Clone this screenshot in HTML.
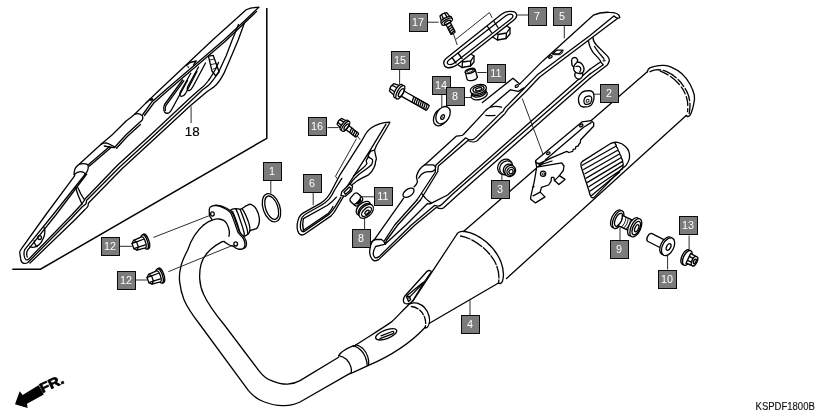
<!DOCTYPE html>
<html>
<head>
<meta charset="utf-8">
<title>Exhaust Muffler</title>
<style>
html,body{margin:0;padding:0;background:#fff;}
body{width:839px;height:420px;overflow:hidden;font-family:"Liberation Sans",sans-serif;}
svg{display:block;will-change:transform;opacity:0.999;}
.l{fill:none;stroke:#000;stroke-width:1.3;stroke-linecap:round;stroke-linejoin:round;}
.t{fill:none;stroke:#111;stroke-width:0.9;stroke-linecap:round;stroke-linejoin:round;}
.w{fill:#fff;stroke:#000;stroke-width:1.3;stroke-linecap:round;stroke-linejoin:round;}
.k{fill:none;stroke:#000;stroke-width:1.5;stroke-linecap:butt;stroke-linejoin:miter;}
.ld{fill:none;stroke:#222;stroke-width:0.95;}
.b{fill:#7b7b7b;stroke:#0a0a0a;stroke-width:1;shape-rendering:crispEdges;}
.n{fill:#fff;font-family:"Liberation Sans",sans-serif;font-size:10px;text-anchor:middle;}
</style>
</head>
<body>
<svg width="839" height="420" viewBox="0 0 839 420">
<rect x="0" y="0" width="839" height="420" fill="#fff"/>

<!-- ===== inset frame for 18 ===== -->
<path class="k" d="M266.8 8 L266.8 138.3 L40.5 269.2 L12.3 269.2"/>

<!-- ===== PART 18 ===== -->
<g id="p18">
<!-- A18 outer upper-left edge, bulges, left rail, tip, right rail -->
<path class="l" d="M258.8 7.3 C254 7.2,249.5 7.9,246.2 9.8 L212.6 40 L159.5 90 L146 102.9 L134.7 114.2 C131.5 117,129 119,126.4 120.8 L112 135 L101.3 144.1 L79.2 164.3 C76.5 166.3,75 168,74.8 169.8 C74.2 171.5,74 173,74.2 174.5 L74.8 175.7 L45.6 215 L21.7 248.4 C20.3 250,19.7 251,19.7 252.5 L20.9 260.3 C21.5 262.3,22.7 263.3,24.1 263.4 C25.5 263.6,26.5 263.3,27.6 262.7 L71.3 218.5 L82 207 C84.5 205,85.8 204.5,86.2 203.3 L86.5 200.5 L120 166.8 L150 139.3 L190 101.7 L202.4 90 C206 87.5,209 85.5,210.8 82.9 C214 79,217 75,219.1 71 L226.3 55.5 L232.2 40 L238.5 24.5"/>
<!-- B18 thick double edge -->
<path class="l" d="M258.8 7.3 L244.4 21 L223.9 40 L165.5 90 L152 101.7 L142.8 114.5" stroke-width="1.2"/>
<path class="l" d="M256.5 11.5 L245.5 22 L225.3 41.2 L167 91.3 L153.8 103 L144.5 115.5" stroke-width="1.2"/>
<!-- tab near (190,63) -->
<path class="l" d="M186.5 65.5 L190 62.5 L196.3 61 L193.5 65"/>
<path d="M187 66.3 L189.5 66.8 L188.3 68.2 Z" fill="#000"/>
<!-- tab near (150,100) -->
<path class="l" d="M146 102.9 L150 99.3 L153 99.3"/>
<path d="M149.5 98.5 L152.8 98 L152.5 100.8 L150 100.8 Z" fill="#000"/>
<!-- bulge 1 wide band -->
<path class="l" d="M134.7 114.2 C137 113.3,140 113.5,142.4 115.8 C143 117,143 118.3,142.4 119.6 C141.5 121,140.3 122,138.9 123.1 L125.8 135 L115 147"/>
<path class="l" d="M140.5 124.5 L127.5 136.3 L116.5 148.2" stroke-width="1"/>
<!-- step -->
<path class="l" d="M101.3 144.1 C103 143.2,104.5 142.9,106 142.9 C109 143.5,112 145.5,115 147"/>
<path class="l" d="M104.3 146 C107.5 146.8,111 147.3,114.5 147.6" stroke-width="1"/>
<!-- narrow band right edge (double) -->
<path class="l" d="M109.6 146.5 L88.1 164.9" stroke-width="1.1"/>
<path class="l" d="M111.3 147.3 L89.5 166" stroke-width="1.1"/>
<!-- bulge 2 -->
<path class="l" d="M79.2 164.3 C82 163.3,85.8 163.5,88.1 164.9 C88.5 167,88.3 169,87.5 170.8 L85 174.5"/>
<path class="l" d="M74.2 174.5 C77 172,81 171.3,83.5 172.3 C84.5 173,85 173.8,85 174.5"/>
<!-- left rail inner double -->
<path class="l" d="M85 174.5 L52.8 215 L24.7 249.6 C24 251.5,23.9 253.5,24.1 255.5 C24.4 257.5,25 259,25.9 259.7 C27 260,28 259.7,28.8 259.1 L71.7 215 L82 203.7 C83 202.5,84 201,85 199 L117.7 165 L150 135.5 L190 98 L199 90 C203 87,206.5 83.5,208.5 80.5 C211 77,213.5 73,215.3 69.5 L218.5 62.5" stroke-width="1.1"/>
<path class="l" d="M86.7 174 L55.8 215 L27.5 250.3 C26.5 252.5,26.5 255,27.3 257" stroke-width="1"/>
<!-- third rail line on right -->
<path class="l" d="M244.3 23.3 L238.2 40 L232.2 54.3 L223.9 73.4 C221 79,218 83.5,214.4 86.5 C212 88.5,209.5 89.5,207.2 91.5 L190 106 L150 142.9 L122 168.7 L88.5 203 L88 206 C87.8 207.3,86.5 208,85 209.5 L74.2 220.5 L30 263"/>
<!-- slots -->
<path class="l" d="M198.5 67 L187.8 86.5 C186.8 89,187.3 90.8,189 90.6 C190.5 90.3,192 88.5,193 86.5 L205.5 63" stroke-width="1.1"/>
<path class="l" d="M190.8 73.3 L180.3 92 C179.3 94.5,179.8 96.3,181.5 96.3 C183.2 96.2,184.8 94.8,185.8 93 L197 71.5" stroke-width="1.1"/>
<path class="l" d="M182.5 80 L164.6 104.5 C163.5 107,163.5 110,164.5 111.8 C165.5 113.5,167.8 113.7,169.5 112.5 C170.5 111.5,171.5 110,172.5 108 L187.5 80.5" stroke-width="1.1"/>
<path class="l" d="M183.8 80.8 L166 105.3 C165.2 107,165 109,165.5 110.5" stroke-width="1"/>
<!-- clip -->
<path class="l" d="M208.4 56.1 L213.2 55.3 L219.1 72 L215.6 75.8 L212 71 Z" stroke-width="1.1"/>
<path class="t" d="M209.8 60 L214.5 59 M211.3 64.5 L216 63.5 M213 69 L217.5 68"/>
<!-- cross piece -->
<path class="l" d="M75.4 187 C77 193,79.5 199,82 204.3" stroke-width="1.1"/>
<path class="l" d="M77.8 187.6 C79.5 192,82 196.5,84.4 199.6" stroke-width="1.1"/>
<!-- hole + pad -->
<circle class="l" cx="39.6" cy="237.6" r="1.9" stroke-width="1.1"/>
<path class="l" d="M43.7 226.9 C44.7 228.5,45 230,44.9 231.7 C44.8 234.5,44.2 236.8,43.1 238.8 C42.2 241,41 242.8,39.6 244.2 C38 245.8,36.2 246.8,34.2 247.2 C32.5 247.4,31 247.2,30 246.6" stroke-width="1.1"/>
<path class="l" d="M34.2 240.6 C34.2 242.5,34.7 243.8,35.4 244.8 C36 245.8,36.5 246.3,37.2 246.6" stroke-width="1"/>

</g>

<!-- ===== PIPE / MUFFLER (4) ===== -->
<g id="p4">
<!-- muffler body -->
<path class="l" d="M463.5 231.5 L647.3 71.8"/>
<path class="l" d="M506.5 278.5 L686.2 115.5"/>
<!-- muffler end cap rim -->
<path class="l" d="M647.3 71.8 C647.8 69.5,648.6 68.5,649.8 67.9 C652 66.8,653.8 66.6,655.7 66.2 C658.5 65.5,661.5 65.2,664 65.4 C666.5 65.6,669 66.2,671.2 67.1 C675 68.7,678.8 70.9,681.9 73.8 C685.3 76.9,688.2 80.5,690.2 84.5 C692 88,693.5 91.5,694.3 95.2 C694.8 98,694.6 100.8,693.8 103.6 C693.2 106.6,692.5 109.6,691.4 112.4 C690.8 114,690 115.4,689 116.2 C688 116.8,687 116.5,686.2 115.5"/>
<path class="l" d="M650 71.7 C652.5 70.5,655.5 69.8,658.3 69.7 C661 69.8,664 70.5,666.7 71.7 C670 73.2,673 75.2,675.8 77.5 C678.8 80,681.3 82.8,683.3 85.8 C685.5 88.8,687.2 91.8,688.3 95 C689.3 98.3,689.9 101.7,690 105 C690 108,689.7 110.8,689.2 113.3" stroke-dasharray="11 2.5 15 2.5 9 2.5 13 2.5" stroke-width="1.1"/>
<path class="l" d="M660 70.8 C663 72,665.8 73.4,668.3 75 C671.7 77.2,674.8 79.7,677.5 82.5 C680.2 85.3,682.5 88.4,684.2 91.7 C685.8 94.9,687 98.3,687.5 101.7 C687.9 105,687.9 108.5,687.5 111.7" stroke-dasharray="9 3 12 3 8 3" stroke-width="1"/>
<!-- weld ring at big cone end -->
<path class="l" d="M456.7 234.5 C458 231.5,461 231,465 231.5 C480 234,495 247,501 262 C504 270,504 276,502.5 281 C501.5 283.5,500 284,498.5 283"/>
<path class="l" d="M460.5 236 C473 238,488 249,495 262 C499 270,499.5 277,498.5 283" stroke-dasharray="10 2 12 2 9 2"/>
<!-- cone -->
<path class="l" d="M456.7 234.5 L412.8 301.2"/>
<path class="l" d="M498.5 283 L429 323.5"/>
<!-- small weld ring -->
<path class="l" d="M407.6 305.8 C409 303.5,413 302.5,417.4 303.1 C423 305,427.5 310,429 316 C430 320,429.5 325,427.5 327 C426.5 328,425.5 328,425 327.5"/>
<path class="l" d="M411.5 306.5 C417 307,422 311,424.5 317 C426 321,426 325,425 327.5" stroke-dasharray="7 2 6 2"/>
<!-- wide pipe -->
<path class="l" d="M407.6 305.8 C403 310,397 317,391.5 321.9 C380 330,367 337.5,353.5 346.5"/>
<path class="l" d="M425 327.5 Q403.5 350.5,367.9 365.7"/>
<!-- slot -->
<ellipse class="l" cx="386.2" cy="334.3" rx="11.2" ry="4.3" transform="rotate(-21 386.2 334.3)"/>
<path class="l" d="M380 338.6 L392.5 333.8 C394.5 333,394 331,392.3 331.5 L381 335.8" />
<!-- sleeve joint -->
<path class="l" d="M338.6 355.7 C339.8 353.5,341.5 352,343.6 350.7 C346.5 348.8,350 347.2,353.6 345.7"/>
<path class="l" d="M338.6 355.7 C341.5 356.3,344.3 357.5,346.4 359.3 C348.5 361.3,349.8 363.8,350.7 366.4 C351.3 368.3,351.6 370.3,351.4 372.1 C351.2 372.9,350.7 373.4,350 373.6" stroke-width="1.5"/>
<path class="l" d="M353.6 345.7 C356.3 346.7,358.8 348.2,360.7 350 C363 352.2,364.7 355,365.7 357.9 C366.6 360.3,367.1 362.7,367.1 365" stroke-width="1.1"/>
<path class="l" d="M355.9 344.7 C358.5 345.5,361 346.9,362.9 348.6 C365.3 350.9,367 354,367.9 357.1 C368.6 359.5,368.8 362,368.6 364.3" stroke-width="1.1"/>
<path class="l" d="M350 373.6 C352.5 372.8,355 371.8,357.1 370.7 C360.8 369,364.5 367.3,367.9 365.7"/>
<!-- stub with beads -->
<path class="w" d="M230.7 210 C232 209,233.5 208.7,235 208.6 C237 208.5,238.5 209.3,240 209.3 C241 209.3,241.5 208.9,242.1 208.6 L245 206.4 L249.3 204.3 C250.3 204.1,251.3 204.4,252.1 205 C254 206,255.5 207.5,256.4 209.3 C258 212,259 215,259.3 217.9 C259.6 220.5,259.3 223,258.6 225 C258 226.8,257.3 228,256.4 228.6 L250 230.7 C249.5 232.3,248.8 233.5,247.9 234.3 C246.5 235.5,245 236.2,243.6 236.4 C242.5 236.5,241.5 236.2,240.7 235.7 L237.9 232.1 L232.9 217.9 Z"/>
<path class="l" d="M232.5 211.5 C234 214.5,235.5 218.5,236.9 222.5 C238.3 227,239.8 231.5,240.7 235.7" stroke-width="1.1"/>
<path class="l" d="M235.7 208.6 C236.6 210.5,237.3 212,237.9 213.6 L241.4 223.6 C242.5 227,243.6 230.5,244.3 233.6 C244.4 234.8,244 235.8,243.6 236.4" stroke-width="1.1"/>
<path class="l" d="M240 209.3 C241 211.5,242 214,242.9 216.4 L246.4 226.4 C247.2 229,247.8 231.8,247.9 234.3" stroke-width="1.1"/>
<path class="l" d="M242.1 208.6 C243.5 210.5,244.7 212.8,245.7 215 C247 218,248.2 221,249 223.6 C249.7 226,250 228.5,250 230.7" stroke-width="1.1"/>
<!-- flange plate -->
<path class="w" d="M209.3 209.3 C209.5 207.5,210.3 206.8,211.4 206.4 C213 205.5,214.8 205.5,216.4 205.7 C219 206,221.5 206.8,223.6 207.9 C226 209,228 210.3,229.3 211.4 C231 213,232 215,232.9 217.9 L237.9 232.1 C239.5 234.5,241.5 236,242.9 237.9 C244.3 240,245 242,245 244.3 C245 246.3,244.3 247.8,242.9 248.6 C241.3 249.4,239.5 249.4,237.9 249 C236.3 248.5,235 247.5,233.6 246.4 C232 245.8,230.5 245.5,229.3 245 L223.6 241.4 L211.4 218.6 C210.3 217.2,209.5 215.8,209.3 214.3 Z" transform="translate(1.5 -0.4)" stroke-width="1.1"/>
<path class="w" d="M209.3 209.3 C209.5 207.5,210.3 206.8,211.4 206.4 C213 205.5,214.8 205.5,216.4 205.7 C219 206,221.5 206.8,223.6 207.9 C226 209,228 210.3,229.3 211.4 C231 213,232 215,232.9 217.9 L237.9 232.1 C239.5 234.5,241.5 236,242.9 237.9 C244.3 240,245 242,245 244.3 C245 246.3,244.3 247.8,242.9 248.6 C241.3 249.4,239.5 249.4,237.9 249 C236.3 248.5,235 247.5,233.6 246.4 C232 245.8,230.5 245.5,229.3 245 L223.6 241.4 L211.4 218.6 C210.3 217.2,209.5 215.8,209.3 214.3 Z"/>
<ellipse class="w" cx="212.4" cy="214" rx="1.8" ry="2.1" stroke-width="1.1"/>
<ellipse class="w" cx="235.7" cy="243.9" rx="1.8" ry="2.1" stroke-width="1.1"/>
<!-- pipe end white cover -->
<path d="M195 233.6 C198 230,200.5 227.5,203.6 225 C206.5 222.5,210 220.5,213.6 219.6 C215.3 219.1,217 218.9,218.6 219 C220.5 219.2,222.3 219.6,223.6 220.4 C225.2 221.3,226.3 222.6,227.1 224.3 C228.2 226.5,229 229,229.3 231.4 C229.5 233.2,229.3 235,228.9 236.4 L224.3 241.4 C223.5 241.4,222.8 241.5,222.1 241.7 C219 243.5,216 245.6,213.6 247.9 L207.1 254.3 Z" fill="#fff" stroke="none"/>
<path class="l" d="M203.6 225 C206.5 222.5,210 220.5,213.6 219.6 C215.3 219.1,217 218.9,218.6 219 C220.5 219.2,222.3 219.6,223.6 220.4 C225.2 221.3,226.3 222.6,227.1 224.3 C228.2 226.5,229 229,229.3 231.4 C229.5 233.2,229.3 235,228.9 236.4"/>
<!-- main bent pipe -->
<path class="l" d="M203.6 225 C196.5 231,191 240,187.7 250 C183 259,181 264,180.6 268 C179.3 273,179.2 278,179.7 282.2 C180.5 289,182 295,184.1 300 C188 309,194 317,200.2 325 L248.3 390.4 C253 396,258 400,264.4 402 C271 404.5,278 405.8,284 405.6 C290 405.5,295 404.5,300 402 L350 373.4"/>
<path class="l" d="M224.3 241.4 C223.5 241.4,222.8 241.5,222.1 241.7 C217.5 244,213.5 247,210 250 C205 255,202 260,201 264.3 C199.8 269,199.5 274,199.7 278.6 C200 284,201.5 290,203.8 294.7 C209 306,217 316,224.4 325 L259 370.8 C263 376,267 379,271.5 380.6 C277 383,282 384.3,287.6 384.2 C292 384,296 382.8,300 380.6 L338.6 357.3"/>
<!-- gasket ring 1 -->
<ellipse class="l" cx="271.5" cy="207.7" rx="8.4" ry="14.6" transform="rotate(-19 271.5 207.7)" stroke-width="1.1"/>
<ellipse class="l" cx="271.7" cy="207.7" rx="6.1" ry="12.2" transform="rotate(-19 271.7 207.7)"/>
<!-- bracket on pipe -->
<path class="w" d="M403.3 300.5 C403.5 298.5,404.2 296.8,405.1 295.7 L427.1 271.3 C428.2 270.5,429.3 270.4,430.1 270.7 C431 271,431.4 271.4,431.3 271.9 L424.2 282 L412.9 300.5 C411.8 302,410.6 303,409.3 303.5 C407.8 303.9,406.3 303.9,405.1 303.5 C404 302.8,403.4 301.8,403.3 300.5 Z"/>
<path class="l" d="M406.9 295.7 L423 282.6 L424.2 282" stroke-width="1.1"/>
<path class="l" d="M408.7 298.1 L421.8 284.4" stroke-width="1.1"/>
<path class="l" d="M406.5 296.5 L408.5 301.5 L410.6 299.5 L409.2 296.3 Z" stroke-width="1"/>

</g>

<!-- ===== HEAT SHIELD (5) ===== -->
<g id="p5">
<!-- A edge (outer upper-left) -->
<path class="l" d="M613.9 16.1 C616.5 18.5,619 18.6,619.8 17.3 C619.3 14,614.5 12.3,609.4 12.3 C603.5 12,598 13,593.3 15.2 L542.8 60.9 L519.6 84.1"/>
<path class="l" d="M510.5 89.8 L490 107.1 C488 108.5,486.5 109.5,485.7 110.5 C484.8 111.3,484.2 112,483.6 112.9 L463.7 134.3 C462 136.5,458.5 135.5,456.5 136.1 L424.7 164.9 C421 167,418 171.5,416.7 175.5 C416 178.5,417.3 180,417.5 181.6 C417 184,415.5 185.5,414 186.9"/>
<!-- top-face tab -->
<path class="l" d="M519.6 84.1 L513 78.2 L482.4 102.6"/>
<path class="l" d="M510.5 89.8 L518.5 91.4 L523.5 88"/>
<ellipse class="l" cx="516.8" cy="86" rx="1.7" ry="1.1" transform="rotate(-30 516.8 86)"/>
<!-- B edge (double) -->
<path class="l" d="M613.9 16.1 L589.7 35.8 L537 75.1 L523.8 88.8 L505 107.9 C504 109.2,503.5 110.5,502.9 111.4 L500.7 113.1 L476.4 137.1 C474 139.8,471 140.2,469 139.7 C467.5 139,466.5 138.3,465.5 137.9 L436 164.9 C435.2 167,435.3 169.5,435.4 172 L417 200"/>
<path class="l" d="M617.4 18.4 L591.5 38 L539.7 77 L526 91.5 L507.9 109.3 C506.5 111,505.5 112.5,505 113.6 L503 115.5 L478.6 139.3 C476 142.5,471.5 142.5,468 140.5 L438.4 166.1 C437.8 168,437.8 170,437.8 171.5 L420.5 200"/>
<!-- crease marks -->
<path class="l" d="M490.5 107.2 C493.5 106.3,498 106.2,501.5 107.2" stroke-width="1"/>
<path class="l" d="M485.8 115.3 C488.5 115.6,492 115.6,495 115.3" stroke-width="1"/>
<!-- bulge detail -->
<path class="l" d="M424.7 164.9 L433.6 164.9 L435.4 166.7"/>
<path class="l" d="M418.7 178 C420 175,422 173.5,424.1 172.6 C427 171.5,430 171.8,432.4 171.5 C433.5 171,434.3 170.5,434.8 169.7"/>
<ellipse class="l" cx="408.5" cy="192.8" rx="6.3" ry="3.6" transform="rotate(-35 408.5 192.8)"/>
<!-- left rail of tail -->
<path class="l" d="M403.5 198.3 L374.9 238.9 L372 241.7"/>
<path class="l" d="M417 200 L394.7 225 L384.3 240.8"/>
<path class="l" d="M420.5 200 L397.7 225 L386.4 240.5 L385.2 244"/>
<!-- inner wall curve -->
<path class="l" d="M421.7 193.5 C424 197,427 200.5,431.5 203.1"/>
<!-- end wall (upper right) -->
<path class="l" d="M593 37.5 C593 40.5,594.5 43,596.6 45.3 L607 55.6 C609.3 58.1,609.8 59.6,609.1 61.6 C608.3 63.4,607.8 64.1,607.3 65 L590 78.2"/>
<path class="l" d="M588.5 40.8 C588.8 44.6,590.5 48.6,593 52.4 L598.8 58.6 C600.3 60.2,600.8 61.2,600.5 61.9 C599.5 63,598.5 63.3,597.5 64 L590 69.3" stroke-width="1.15"/>
<path class="l" d="M594.5 46.5 C597 50.5,601 55.5,603.8 58.5" stroke-width="1.1"/>
<circle class="t" cx="604" cy="60.5" r="0.9"/>
<path class="l" d="M600.5 61.9 L603.3 64.8 L590 74" stroke-width="1.15"/>
<!-- top-face slot -->
<path class="l" d="M552.5 54 L556.5 50.2 L563 50.2 L559 54 Z"/>
<path class="t" d="M554 54.7 L560.5 54.7 L563 52"/>
<ellipse class="l" cx="550.4" cy="56.9" rx="1.9" ry="1.1" transform="rotate(-25 550.4 56.9)"/>
<!-- C rails -->
<path class="l" d="M590 69.3 L447.6 195 L431.5 203.1 C430 204,428.5 204.2,427.5 203.5 L406 225 L385.5 243.8"/>
<path class="l" d="M590 74 L453 193.8 L441.5 204.8 C439 207.2,436.5 206,434.5 205.5 L411.4 225 L379.2 256.6 C377.5 257.8,376 258,375 257.8 C373.8 256.5,373.2 255,373.2 253.6 C373.3 251,374.3 248.5,375.6 246.5 L383.4 244.7 L385.2 244"/>
<path class="l" d="M590 78.2 L458.3 194.4 L443.7 207.8 C441.5 209.5,438.5 208.3,436.5 207.3 L415 225 L378.6 259.6 C377 260.5,375.6 260.9,374.4 260.8 C372.5 260,371.3 258.8,370.9 257.2 C369.9 255,369.5 252.8,369.7 250.6 C370 247.3,370.8 244.3,372 241.7"/>
<!-- tip -->
<path class="l" d="M372 241.7 C373 240.5,374.3 239.8,375.6 239.5 L381.6 239.5 C383.3 240.5,384.5 242,385.2 244"/>
<!-- clip on end wall -->
<path class="w" d="M572 59 C573 57.5,575 57.3,576.5 58 C577.5 59,577.8 60.5,577.3 62 C579.5 62,581.8 63.3,583 65.5 C584.3 68,584.2 71,582.5 73 C583 75,582.3 77.3,580.5 78.6 C578.5 79.5,576.5 78.8,575.3 77 C574.5 75.3,574.7 73.5,575.5 72.3 C574 71,573.3 69,573.7 67 C572.3 66,571.5 64.3,571.8 62.5 C571.5 61.2,571.5 60,572 59 Z"/>
<path class="l" d="M577.3 62 C575.8 63,574.5 64.8,573.7 67 M575.5 72.3 C577 73.5,579.5 73.8,582.5 73 M576 66.5 C577.5 65.8,579.5 66.3,580.5 67.8 C581.2 69.3,580.8 70.8,579.8 71.8" stroke-width="1"/>
<!-- long leader to bracket -->
<path class="ld" d="M522.2 98.4 L545.6 161"/>

</g>

<!-- ===== PART 6 ===== -->
<g id="p6">
<!-- part 6 small protector: outer silhouette -->
<path class="w" d="M389.8 122.2 C386.5 122.3,383 122.7,380.2 123.6 C376.5 124.7,373.3 126.3,370.7 128.3 C368.3 130.2,366.5 132.5,365 135 L361.2 141.7 L340 174.8 L332.9 188.2 C331.3 191.5,329.5 194.7,327.5 197.1 C325.5 199.6,323 201.8,320.4 203.4 L306.1 211.4 C304 212.5,302.2 213.6,300.7 215 C299.4 216.5,298.5 218.3,298 220.4 C297.3 222.8,297 225.2,297.1 227.5 C297.3 229.6,297.8 231.5,298.6 232.9 C299.4 234.2,300.4 234.9,301.6 235 C302.9 235.1,304.1 234.6,305.2 233.8 L331.1 215.9 C333.5 213.5,335.6 210.4,337.3 207 L343.6 196.3 L352.5 184.6 C355.3 182,358.3 179.9,361.4 178.4 L368.6 174.8 C371 172.8,372.8 170.3,373.9 167.7 C375 165.6,375.6 163.8,375.5 162 L376.4 158.8 L374.5 150.2 L376.4 145.5 L388.8 124.5 Z"/>
<!-- inner line parallel to right edge -->
<path class="l" d="M386 124.1 L370.7 149.3 L346 188.3" stroke-width="1.15"/>
<!-- bracket side wall inner outlines -->
<path class="l" d="M370.7 151.2 L367.9 156 C368.3 157,369 157.5,369.8 157.9 C371 158.3,372 158.9,372.6 159.8 C372.8 161.5,372.4 163.2,371.7 164.5 C370 166.3,368 167.9,366 169.3 L359.3 174 C357 176,354.6 178.3,352.6 180.7 L346 190.2" stroke-width="1.15"/>
<path class="l" d="M368.8 156.5 C367.5 158,366.7 159.3,366.3 160.5 C366.3 161.8,366.6 162.8,367 163.5 C366 165.2,364.6 166.6,363.2 167.7 L353.5 176" stroke-width="1"/>
<path class="l" d="M374.5 150.2 L370.7 151.2" stroke-width="1"/>
<!-- lower lobe inner outlines -->
<path class="l" d="M341.8 178.4 L334.6 190 C333 193.3,331.3 196.4,329.3 198.9 C327 201.5,324.2 203.6,321.3 205.2 L307 213.2 C305.2 214.2,303.7 215.4,302.5 216.8 C301.6 218.4,301 220.2,300.7 222.1 C300.4 224,300.3 225.8,300.4 227.5 C300.6 229,301 230.2,301.6 231.1 C302.4 231.8,303.4 231.9,304.3 231.4 L329.3 214.1 C331.6 211.8,333.7 209,335.5 206.1 L340.9 197.1" stroke-width="1.15"/>
<path class="l" d="M303.4 218.6 L327.5 205.2 C330.7 203,333.8 200.2,336.4 197.1" stroke-width="1"/>
<path class="l" d="M303.4 230.2 L328.4 213.2 C330.2 211.3,331.8 209,333 206.5" stroke-width="1"/>
<path class="l" d="M303.4 218.6 C302.5 222.5,302.5 226.5,303.4 230.2" stroke-width="1"/>
<!-- clip -->
<path class="w" d="M341.8 191.8 L349.8 183.8 L352.5 186.4 L351.6 190.9 L345.4 196.3 L340.9 195.4 Z" stroke-width="1.15"/>
<path class="l" d="M344 192.2 L349.3 187 L350.6 188.3 L350 190.5 L345.5 194.3 Z" stroke-width="0.9"/>
<!-- assembly leader lines -->
<path class="ld" d="M356.4 135 L360.2 139.8"/>
<path class="ld" d="M356.4 138.8 L335.5 176.3 L337.7 179.2"/>

</g>

<!-- ===== PART 7 ===== -->
<g id="p7">
<!-- nuts under loop (drawn first) -->
<path class="w" d="M493 30 L496 26.5 L506 25.5 L510 28 L510 34 L506 38.5 L497.5 40 L492.5 37 Z"/>
<path class="l" d="M497.5 40 L498 34.5 L506.5 33 L506 38.5 M498 34.5 L493 30 M506.5 33 L510 28"/>
<path class="w" d="M458 57.5 L461 54.5 L470 53.5 L474 56 L474 62 L470.5 66 L462 67.5 L457.5 64.5 Z"/>
<path class="l" d="M462 67.5 L462.5 62 L470.8 60.8 L470.5 66 M462.5 62 L458 57.5 M470.8 60.8 L474 56"/>
<!-- loop -->
<path class="w" d="M445.7 58.7 L501.5 14.3 C504.5 12,507.5 11.2,510.1 11.4 C513.5 11.3,516 12.3,516.6 14.3 C517.2 16.5,515.5 18.8,513 20.7 L457.5 64.5 C454 67,450 68.3,447 67.5 C443.5 66.5,442.5 62,445.7 58.7 Z"/>
<path class="l" d="M449 60 L505.8 15.7 C508 14.3,510 14,511.5 14.3 C513.5 14.7,513.3 16.8,511.5 18.6 L455 62.5 C452.5 64.5,449.5 65,448 64 C446.8 63,447.3 61.3,449 60 Z" fill="#fff"/>
<!-- clamps on loop -->
<path class="l" d="M487.5 26.5 L491.5 32.5 M494 21.5 L498 27.5"/>
<path class="l" d="M452 57.5 L456 63 M458 53 L462 58.5"/>
<!-- bolt 17 -->
<g transform="translate(446.8 21) rotate(62.5)">
<rect class="w" x="2" y="-2.4" width="12" height="4.8" rx="1"/>
<path class="l" d="M5.5 -2.4 L6.5 2.4 M7.7 -2.4 L8.7 2.4 M9.9 -2.4 L10.9 2.4 M12.1 -2.4 L13.1 2.4" stroke-width="1"/>
<path class="w" d="M-7.5 -3.8 L-2.5 -4.8 L-1 -2.5 L-1 2.5 L-2.5 4.8 L-7.5 3.8 L-8.4 0 Z"/>
<path class="l" d="M-8 -1.7 L-1.8 -2.1 M-8 1.7 L-1.8 2.1" stroke-width="1"/>
<ellipse class="w" cx="-1.2" cy="0" rx="2.3" ry="6"/>
<ellipse class="w" cx="0.7" cy="0" rx="2.3" ry="6"/>
<ellipse class="l" cx="1.5" cy="0" rx="1.4" ry="3.6" stroke-width="1"/>
</g>
<path class="ld" d="M453.5 34 L457.2 45"/>
<path class="ld" d="M455.8 39.3 L489.4 12.6 L492.2 17.9"/>

</g>

<!-- ===== SMALL PARTS ===== -->
<g id="small">
<!-- bracket bar -->
<path class="w" d="M536 160.2 L581.9 121.9 L591.4 120.7 L593.8 123.1 L593.6 126.3 L580.7 139.7 L580.2 142.9 L579.1 143.9 L578 146.1 L575.9 146.6 L575.4 148.8 L573.2 149.3 L572.7 151.4 L568.9 152.5 L566.8 151.4 L552 157.6 L538.7 163.9 L537.1 163.4 L535.5 161.8 Z" stroke-width="1.2"/>
<path class="l" d="M545.5 159.8 L583.6 127.3 L591.2 122.6" stroke-width="1.1"/>
<ellipse class="l" cx="581.3" cy="125.4" rx="1.8" ry="1.1" transform="rotate(-30 581.3 125.4)" stroke-width="1"/>
<ellipse class="l" cx="548.3" cy="153.2" rx="1.8" ry="1.1" transform="rotate(-30 548.3 153.2)" stroke-width="1"/>
<!-- bracket plate -->
<path class="l" d="M535.5 161.2 L536.7 167.1 M537.9 162.9 L540.2 164.8 L552 161 M540.2 164.8 L541.2 166.5" stroke-width="1.1"/>
<path class="w" d="M536.7 167.1 L561.7 162.9 L564 166 L563.3 170.5 L559.4 175.6 L565 179.4 L558.9 184.6 L554.5 180.6 L553.8 177.3 L551.5 177.3 L551 181.4 L548.6 185 L541.4 187.4 L540.2 192.1 L545 196.9 L535.5 202.9 L530.7 199.3 L530.7 196.9 L534.3 181.4 Z"/>
<path class="l" d="M559.4 175.6 L554.5 180.6 M540.2 192.1 L533 195.8 M532.5 187.5 L534 186.5" stroke-width="1.1"/>
<circle class="l" cx="543.1" cy="173.8" r="2.6" stroke-width="1.1"/>
<circle class="t" cx="543.5" cy="173.9" r="1.1"/>
<!-- ribbed plate -->
<path class="w" d="M581 163.3 C581.3 162.5,581.8 161.9,582.4 161.4 L611 143.3 C613.5 142.3,615.8 142.1,617.6 142.4 C620.5 143,623.2 144.3,625.2 146.2 C627 147.8,628.3 149.7,629 151.9 C629.6 154,629.8 156.4,629.4 158.6 C628.8 161,627.6 163.3,626.2 165.2 C625 166.5,623.7 167.5,622.4 168.1 L593.8 197.6 C592.5 198,591.5 197.6,591 196.7 C590 195,589.4 193,589 191 L581 166.2 Z"/>
<path class="l" d="M582.2 165.2 L615.8 146.3 M583.6 169.5 L617.7 150.2 M584.9 173.8 L619.4 154 M586.2 178.1 L620.9 157.8 M587.5 182.4 L622.1 161.6 M588.8 186.7 L622.6 165.4 M590.1 191 L622.3 169 M591.6 195.4 L619.8 172" stroke-width="1.15"/>
<path class="l" d="M614.8 143 C616.2 144.5,616.5 145.5,616.3 146.8 C617.8 148,618.4 149.3,618.2 150.7 C619.6 152,620.1 153.2,619.9 154.5 C621.2 155.8,621.6 157,621.4 158.3 C622.5 159.5,622.8 160.8,622.6 162 C623.3 163.3,623.3 164.7,623 165.8 C623.3 167,623 168,622.4 168.6" stroke-width="1.1"/>
<!-- rubber mount 3 -->
<g>
<ellipse class="w" cx="505" cy="166.8" rx="6.9" ry="8.1" transform="rotate(35 505 166.8)" stroke-width="1.4"/>
<ellipse class="w" cx="506.3" cy="167.8" rx="6.2" ry="7.3" transform="rotate(35 506.3 167.8)" stroke-width="1.1"/>
<ellipse class="w" cx="508.3" cy="169.4" rx="4.7" ry="5.6" transform="rotate(35 508.3 169.4)" stroke-width="1.1"/>
<ellipse class="w" cx="510.2" cy="171" rx="5.1" ry="5.9" transform="rotate(35 510.2 171)" stroke-width="1.4"/>
<ellipse class="l" cx="510.8" cy="171.4" rx="3.6" ry="4.2" transform="rotate(35 510.8 171.4)" stroke-width="1"/>
<ellipse class="l" cx="511" cy="171.6" rx="1.9" ry="2.3" transform="rotate(35 511 171.6)" stroke-width="1.1"/>
</g>
<!-- rubber 2 -->
<path class="w" d="M581.2 93.2 C582 92,583.5 91.3,585 91 L589.5 90.6 C591.5 90.7,593 91.8,593.6 93.5 C594.2 95.5,594.2 97.5,593.8 99.5 L592.3 103.5 C591.5 105.3,590 106.3,588.2 106.6 L583.5 107 C581.8 106.9,580.3 106,579.5 104.5 C578.6 102.5,578.3 100.2,578.5 98 C578.8 96,579.8 94.3,581.2 93.2 Z"/>
<path class="l" d="M584.8 97.8 C585.5 96.8,586.8 96.2,588 96.1 L590 96 C591.2 96.4,591.8 97.5,591.8 98.7 C591.7 100.3,591.2 101.8,590.5 103 C589.7 103.9,588.5 104.3,587.3 104.4 L585.5 104.3 C584.5 103.8,584 102.7,583.9 101.5 C583.9 100.2,584.2 98.9,584.8 97.8 Z" stroke-width="1.1"/>
<path class="t" d="M586.8 99.6 L589 99.3 L588.8 102 L586.6 102.2 Z"/>
<!-- collar 11a -->
<g transform="translate(471.2 74.7)">
<path class="w" d="M-6 -2.5 C-5 -5.5,1 -7,4 -5 L6.2 2.5 C5 5.5,-1 7,-4 5 Z"/>
<ellipse class="l" cx="-1" cy="-3.8" rx="5.1" ry="2.2" transform="rotate(-17 -1 -3.8)"/>
<ellipse class="t" cx="-1" cy="-3.8" rx="3.2" ry="1.2" transform="rotate(-17 -1 -3.8)"/>
</g>
<!-- collar 11b -->
<g transform="translate(356.2 199.5) rotate(42)">
<rect class="w" x="-5.3" y="-5.6" width="10.8" height="11" rx="3.2" ry="3.2"/>
<path class="l" d="M1.8 -5.4 C3 -2,3 2,1.8 5.2" stroke-width="1"/>
<path class="l" d="M3.2 -3 L3.2 3 M4.3 -2.3 L4.3 2.3" stroke-width="0.9"/>
</g>
<!-- grommet 8a -->
<g>
<ellipse class="w" cx="479.2" cy="95" rx="8.3" ry="4.5" transform="rotate(-15 479.2 95)" stroke-width="1.4"/>
<ellipse class="w" cx="478.9" cy="93" rx="7.2" ry="3.8" transform="rotate(-15 478.9 93)" stroke-width="1.1"/>
<ellipse class="w" cx="478.7" cy="91.3" rx="7.4" ry="3.9" transform="rotate(-15 478.7 91.3)" stroke-width="1.1"/>
<ellipse class="w" cx="478.3" cy="89.2" rx="8.3" ry="4.5" transform="rotate(-15 478.3 89.2)" stroke-width="1.4"/>
<ellipse class="l" cx="478.5" cy="89" rx="5.7" ry="2.8" transform="rotate(-15 478.5 89)" stroke-width="1.1"/>
<ellipse class="l" cx="478.8" cy="89.3" rx="3.3" ry="1.4" transform="rotate(-15 478.8 89.3)" stroke-width="1"/>
</g>
<!-- grommet 8b -->
<g>
<ellipse class="w" cx="363.4" cy="208.4" rx="8.6" ry="5.2" transform="rotate(-42 363.4 208.4)" stroke-width="1.4"/>
<ellipse class="w" cx="364.6" cy="209.7" rx="7.7" ry="4.4" transform="rotate(-42 364.6 209.7)" stroke-width="1.1"/>
<ellipse class="w" cx="366.2" cy="211.4" rx="8.6" ry="5.2" transform="rotate(-42 366.2 211.4)" stroke-width="1.4"/>
<ellipse class="l" cx="366.5" cy="211.7" rx="6" ry="3.1" transform="rotate(-42 366.5 211.7)" stroke-width="1.1"/>
<ellipse class="l" cx="367" cy="212.2" rx="2.6" ry="1.3" transform="rotate(-42 367 212.2)" stroke-width="1"/>
</g>
<!-- washer 14 -->
<ellipse class="w" cx="440.6" cy="117.1" rx="6.4" ry="9.3" transform="rotate(30 440.6 117.1)" stroke-width="1.5"/>
<ellipse class="w" cx="443" cy="115.2" rx="6.4" ry="9.3" transform="rotate(30 443 115.2)"/>
<ellipse class="l" cx="442.6" cy="117" rx="1.6" ry="2.5" transform="rotate(30 442.6 117)" stroke-width="1.1"/>
<path class="t" d="M441.8 116 L443.3 118.2"/>
<!-- bolt 15 -->
<g transform="translate(399.8 92) rotate(29.5)">
<rect class="w" x="2" y="-2.9" width="30.5" height="5.8" rx="1.2"/>
<path class="l" d="M14.5 -2.9 L15.7 2.9 M16.7 -2.9 L17.9 2.9 M18.9 -2.9 L20.1 2.9 M21.1 -2.9 L22.3 2.9 M23.3 -2.9 L24.5 2.9 M25.5 -2.9 L26.7 2.9 M27.7 -2.9 L28.9 2.9 M29.9 -2.9 L31.1 2.9" stroke-width="1"/>
<path class="w" d="M-9.5 -4.3 L-3 -5.6 L-1 -3 L-1 3 L-3 5.6 L-9.5 4.3 L-10.6 0 Z"/>
<path class="l" d="M-10 -2 L-2 -2.6 M-10 2 L-2 2.6" stroke-width="1"/>
<ellipse class="w" cx="-1.8" cy="0" rx="3" ry="7.6"/>
<ellipse class="w" cx="0.6" cy="0" rx="3" ry="7.6"/>
<ellipse class="l" cx="1.6" cy="0" rx="1.9" ry="4.6" stroke-width="1"/>
</g>
<!-- bolt 16 -->
<g transform="translate(345.2 125.9) rotate(38)">
<rect class="w" x="2" y="-2.4" width="13.5" height="4.8" rx="1"/>
<path class="l" d="M6.5 -2.4 L7.5 2.4 M8.7 -2.4 L9.7 2.4 M10.9 -2.4 L11.9 2.4 M13.1 -2.4 L14.1 2.4" stroke-width="1"/>
<path class="w" d="M-7.5 -3.6 L-2.5 -4.6 L-1 -2.5 L-1 2.5 L-2.5 4.6 L-7.5 3.6 L-8.4 0 Z"/>
<path class="l" d="M-8 -1.7 L-1.8 -2.1 M-8 1.7 L-1.8 2.1" stroke-width="1"/>
<ellipse class="w" cx="-1.2" cy="0" rx="2.3" ry="6"/>
<ellipse class="w" cx="0.7" cy="0" rx="2.3" ry="6"/>
<ellipse class="l" cx="1.5" cy="0" rx="1.4" ry="3.6" stroke-width="1"/>
</g>
<!-- nuts 12 -->
<g transform="translate(135.3 245.2) rotate(-19)">
<ellipse class="w" cx="11.4" cy="0" rx="2.9" ry="7.8" stroke-width="1.2"/>
<ellipse class="w" cx="10" cy="0" rx="2.8" ry="7.5" stroke-width="1.1"/>
<path class="w" d="M0 -5.2 L8.6 -5.8 A2.1 5.8 0 0 1 8.6 5.8 L0 5.2 L-2.5 2.7 L-2.5 -2.7 Z" stroke-width="1.2"/>
<path class="l" d="M-2.5 -2.7 L2.3 -2.7 L9.6 -3 M-2.5 2.7 L2.3 2.7 L9.6 3 M0 -5.2 L2.3 -2.7 L2.3 2.7 L0 5.2" stroke-width="1"/>
</g>
<g transform="translate(150.3 279.2) rotate(-19)">
<ellipse class="w" cx="11.4" cy="0" rx="2.9" ry="7.8" stroke-width="1.2"/>
<ellipse class="w" cx="10" cy="0" rx="2.8" ry="7.5" stroke-width="1.1"/>
<path class="w" d="M0 -5.2 L8.6 -5.8 A2.1 5.8 0 0 1 8.6 5.8 L0 5.2 L-2.5 2.7 L-2.5 -2.7 Z" stroke-width="1.2"/>
<path class="l" d="M-2.5 -2.7 L2.3 -2.7 L9.6 -3 M-2.5 2.7 L2.3 2.7 L9.6 3 M0 -5.2 L2.3 -2.7 L2.3 2.7 L0 5.2" stroke-width="1"/>
</g>
<!-- rubber spool 9 -->
<g transform="translate(626.3 223.4) rotate(25)">
<ellipse class="w" cx="-11" cy="0" rx="4.6" ry="9.6"/>
<ellipse class="w" cx="-9" cy="0" rx="4.6" ry="9.6"/>
<ellipse class="l" cx="-8.5" cy="0" rx="3.2" ry="7"/>
<path class="w" d="M-7 -5.5 L6 -5.5 L6 5.5 L-7 5.5 C-5 2,-5 -2,-7 -5.5 Z"/>
<path class="t" d="M-3 -5.5 C-1.5 -2,-1.5 2,-3 5.5 M-0.5 -5.5 C1 -2,1 2,-0.5 5.5 M2 -5.5 C3.5 -2,3.5 2,2 5.5"/>
<ellipse class="w" cx="8" cy="0" rx="4.8" ry="9.8"/>
<ellipse class="w" cx="10.5" cy="0" rx="4.8" ry="9.8"/>
<ellipse class="l" cx="11" cy="0" rx="3.4" ry="7.2"/>
<ellipse class="l" cx="11.5" cy="0" rx="1.7" ry="3.8"/>
</g>
<!-- collar 10 -->
<g transform="translate(667.8 246.6) rotate(27)">
<path class="w" d="M0 -4.4 L-20.5 -4.4 C-23.3 -3.6,-23.3 3.6,-20.5 4.4 L0 4.4 Z"/>
<ellipse class="w" cx="-1.6" cy="0" rx="5.6" ry="9.6"/>
<ellipse class="w" cx="0.3" cy="0" rx="5.6" ry="9.6"/>
<ellipse class="l" cx="0.9" cy="0" rx="2" ry="3.5" stroke-width="1.15"/>
</g>
<!-- flange nut 13 -->
<g transform="translate(689.3 258.8) rotate(25) scale(1.08)">
<ellipse class="w" cx="-3.7" cy="0" rx="3.6" ry="7.4"/>
<ellipse class="w" cx="-2" cy="0" rx="3.6" ry="7.4"/>
<path class="w" d="M-1 -5 L5 -4.5 C7 -3,7 3,5 4.5 L-1 5 Z"/>
<path class="l" d="M-0.5 -2 L5.8 -1.8 M-0.5 2 L5.8 1.8" stroke-width="1"/>
<ellipse class="w" cx="5.3" cy="0" rx="2.4" ry="4.7"/>
<ellipse class="l" cx="5.6" cy="0" rx="1.1" ry="2.2" stroke-width="1"/>
</g>

</g>

<!-- ===== LEADERS ===== -->
<g id="leaders">
<path class="ld" d="M428 22.2 L438.6 22.2"/>
<path class="ld" d="M517.3 15 L528 15"/>
<path class="ld" d="M564.3 26 L564.3 38.4"/>
<path class="ld" d="M399.6 70 L399.6 84.3"/>
<path class="ld" d="M477.3 72.5 L486.6 72.5"/>
<path class="ld" d="M441.8 95 L441.8 107.2"/>
<path class="ld" d="M464.4 97.5 L471.6 97.5"/>
<path class="ld" d="M327.5 127.6 L338.6 127.6"/>
<path class="ld" d="M593.5 94.2 L600.5 94.2"/>
<path class="ld" d="M501.9 174.3 L501.9 180.5"/>
<path class="ld" d="M313.2 193 L313.2 205.2"/>
<path class="ld" d="M359.6 196.8 L374 196.8"/>
<path class="ld" d="M364.6 217.7 L364.6 229.3"/>
<path class="ld" d="M270.8 181 L270.8 193.5"/>
<path class="ld" d="M120 246.3 L132.5 246.3"/>
<path class="ld" d="M136 280 L147.5 280"/>
<path class="ld" d="M470 299.5 L470 315.5"/>
<path class="ld" d="M620 227.4 L620 240"/>
<path class="ld" d="M667.6 255 L667.6 269.5"/>
<path class="ld" d="M689.1 235.5 L689.1 249.3"/>
<path class="ld" d="M191.1 106.5 L191.1 123"/>
<!-- nut-to-flange lines -->
<path class="ld" d="M153.3 237.5 L210.5 215.2"/>
<path class="ld" d="M168.3 271.7 L233.5 245"/>
<text x="184.8" y="136.4" font-family="Liberation Sans, sans-serif" font-size="13.3" fill="#000" stroke="#000" stroke-width="0.2">18</text>

</g>

<!-- ===== LABELS ===== -->
<g id="labels">
<rect class="b" x="409.5" y="13.5" width="18" height="18"/><text class="n" transform="translate(417.9 26.0) scale(1.08 1)">17</text>
<rect class="b" x="528.5" y="7.5" width="18" height="18"/><text class="n" transform="translate(536.9 20.0) scale(1.08 1)">7</text>
<rect class="b" x="553.5" y="7.5" width="18" height="18"/><text class="n" transform="translate(561.9 20.0) scale(1.08 1)">5</text>
<rect class="b" x="391.5" y="51.5" width="18" height="18"/><text class="n" transform="translate(399.9 64.0) scale(1.08 1)">15</text>
<rect class="b" x="487.5" y="64.5" width="18" height="18"/><text class="n" transform="translate(495.9 77.0) scale(1.08 1)">11</text>
<rect class="b" x="432.5" y="76.5" width="18" height="18"/><text class="n" transform="translate(440.9 89.0) scale(1.08 1)">14</text>
<rect class="b" x="446.5" y="87.5" width="18" height="18"/><text class="n" transform="translate(454.9 100.0) scale(1.08 1)">8</text>
<rect class="b" x="308.5" y="117.5" width="18" height="18"/><text class="n" transform="translate(316.9 130.0) scale(1.08 1)">16</text>
<rect class="b" x="600.5" y="84.5" width="18" height="18"/><text class="n" transform="translate(608.9 97.0) scale(1.08 1)">2</text>
<rect class="b" x="491.5" y="180.5" width="18" height="18"/><text class="n" transform="translate(499.9 193.0) scale(1.08 1)">3</text>
<rect class="b" x="303.5" y="174.5" width="18" height="18"/><text class="n" transform="translate(311.9 187.0) scale(1.08 1)">6</text>
<rect class="b" x="374.5" y="187.5" width="18" height="18"/><text class="n" transform="translate(382.9 200.0) scale(1.08 1)">11</text>
<rect class="b" x="352.5" y="229.5" width="18" height="18"/><text class="n" transform="translate(360.9 242.0) scale(1.08 1)">8</text>
<rect class="b" x="263.5" y="162.5" width="18" height="18"/><text class="n" transform="translate(271.9 175.0) scale(1.08 1)">1</text>
<rect class="b" x="101.5" y="237.5" width="18" height="18"/><text class="n" transform="translate(109.9 250.0) scale(1.08 1)">12</text>
<rect class="b" x="117.5" y="271.5" width="18" height="18"/><text class="n" transform="translate(125.9 284.0) scale(1.08 1)">12</text>
<rect class="b" x="461.5" y="315.5" width="18" height="18"/><text class="n" transform="translate(469.9 328.0) scale(1.08 1)">4</text>
<rect class="b" x="610.5" y="240.5" width="18" height="18"/><text class="n" transform="translate(618.9 253.0) scale(1.08 1)">9</text>
<rect class="b" x="658.5" y="270.5" width="18" height="18"/><text class="n" transform="translate(666.9 283.0) scale(1.08 1)">10</text>
<rect class="b" x="679.5" y="216.5" width="18" height="18"/><text class="n" transform="translate(687.9 229.0) scale(1.08 1)">13</text>
</g>

<!-- FR arrow -->
<g id="fr">
<path d="M15 404.2 L19.7 391.2 L22.6 395.1 L38.6 385.2 L43.8 394.6 L27 403.8 L27.6 407.9 Z" fill="#000"/>
<text transform="translate(42.2 393.3) rotate(-25) scale(1.14 1)" font-family="Liberation Sans, sans-serif" font-weight="bold" font-size="13.6" fill="#000" stroke="#000" stroke-width="0.7">FR.</text>

</g>

<text x="755.6" y="409.7" font-family="Liberation Sans, sans-serif" font-size="10" fill="#111" stroke="#111" stroke-width="0.15" textLength="59.2" lengthAdjust="spacingAndGlyphs">KSPDF1800B</text>
</svg>
</body>
</html>
